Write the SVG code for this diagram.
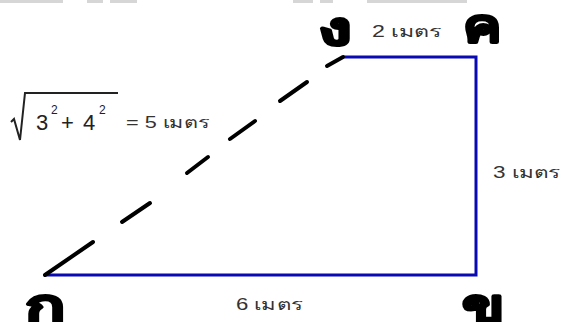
<svg xmlns="http://www.w3.org/2000/svg" width="562" height="322" viewBox="0 0 562 322">
<style>
.corner{font-family:"DejaVu Sans","Noto Sans",sans-serif;font-weight:bold;font-size:46px;fill:#000;stroke:#000;stroke-width:2.5;stroke-linejoin:round}
.lbl{font-family:"Liberation Sans","DejaVu Sans",sans-serif;font-size:16px;fill:#333}
.math{font-family:"Liberation Sans",Arial,sans-serif;font-size:22px;fill:#222}
.sup{font-family:"Liberation Sans",Arial,sans-serif;font-size:12px;fill:#222}
.blue{stroke:#0a0ab4;stroke-width:3;fill:none}
.dash{stroke:#000;stroke-width:4;stroke-linecap:round}
.strip{fill:#d6d6d6}
</style>
<rect width="562" height="322" fill="#fff"/>
<g id="strip">
<rect class="strip" x="0" y="0" width="63" height="3"/>
<rect class="strip" x="87" y="0" width="16" height="3"/>
<rect class="strip" x="110" y="0" width="27" height="3"/>
<rect class="strip" x="293" y="0" width="20" height="3"/>
<rect class="strip" x="320" y="0" width="13" height="3"/>
<rect class="strip" x="367" y="0" width="100" height="3"/>
</g>
<g id="connectors">
<polyline class="blue" points="343,57 476,57 476,275 45,275"/>
<line class="dash" x1="45" y1="275" x2="93" y2="242"/>
<line class="dash" x1="122" y1="222" x2="150" y2="203"/>
<line class="dash" x1="187" y1="173" x2="208" y2="157"/>
<line class="dash" x1="230" y1="139" x2="255" y2="121"/>
<line class="dash" x1="280" y1="101" x2="307" y2="82"/>
<line class="dash" x1="327" y1="66" x2="343" y2="57"/>
</g>
<g id="node-ng"><text class="corner" transform="translate(318,45) scale(1.5,1)">ง</text></g>
<g id="node-kh-top"><text class="corner" transform="translate(463,42) scale(1.25,1)">ค</text></g>
<g id="node-k"><text class="corner" transform="translate(25,322) scale(1.45,1)">ก</text></g>
<g id="node-kh"><text class="corner" transform="translate(462,322) scale(1.35,1)">ข</text></g>
<g id="labels">
<text class="lbl" x="372" y="37" textLength="70" lengthAdjust="spacingAndGlyphs">2 เมตร</text>
<text class="lbl" x="493" y="178" textLength="68" lengthAdjust="spacingAndGlyphs">3 เมตร</text>
<text class="lbl" x="236" y="310" textLength="67" lengthAdjust="spacingAndGlyphs">6 เมตร</text>
<path d="M11,122 L14,119 L20,140 L25,93 L118,93" fill="none" stroke="#222" stroke-width="2"/>
<text class="math" x="36" y="130">3</text>
<text class="sup" x="51" y="114">2</text>
<text class="math" x="61" y="130">+</text>
<text class="math" x="83" y="130">4</text>
<text class="sup" x="99" y="114">2</text>
<text class="lbl" x="126" y="128" textLength="84" lengthAdjust="spacingAndGlyphs">= 5 เมตร</text>
</g>
</svg>
